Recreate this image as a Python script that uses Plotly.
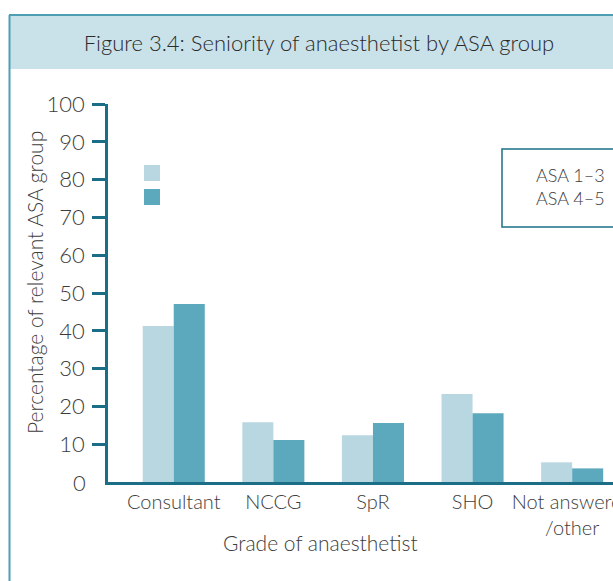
import plotly.graph_objects as go

categories = ["Consultant", "NCCG", "SpR", "SHO", "Not answered<br>/other"]
series_names = ["ASA 1\u20133", "ASA 4\u20135"]
asa_1_3 = [41.3, 15.8, 12.4, 23.3, 5.2]
asa_4_5 = [47.1, 11.1, 15.6, 18.2, 3.6]
y_ticks = [10, 20, 30, 40, 50, 60, 70, 80, 90, 100]

W, H = 613, 581
L, R, T, B = 108, 613, 104, 482  # plot area in pixels

def px(x):
    return (x - L) / (R - L)

def py(y):
    return (B - y) / (B - T)

FONT = "Lato"
TXT = "#3c3c3c"
AXIS = "#1b6e86"
C1 = "#b8d7e1"
C2 = "#5ca8bd"
BAND = "#c9e1e8"
FRAME = "#4e9fb4"

fig = go.Figure()
fig.add_trace(go.Bar(x=categories, y=asa_1_3, name=series_names[0], marker_color=C1, marker_line_width=0))
fig.add_trace(go.Bar(x=categories, y=asa_4_5, name=series_names[1], marker_color=C2, marker_line_width=0))

shapes = [
    dict(type="rect", xref="paper", yref="paper", x0=px(9), x1=px(640), y0=py(69), y1=py(15),
         fillcolor=BAND, line=dict(width=0), layer="below"),
    dict(type="line", xref="paper", yref="paper", x0=px(9), x1=px(640), y0=py(15), y1=py(15),
         line=dict(color=FRAME, width=2)),
    dict(type="line", xref="paper", yref="paper", x0=px(9.5), x1=px(9.5), y0=py(15), y1=py(600),
         line=dict(color=FRAME, width=2)),
    dict(type="rect", xref="paper", yref="paper", x0=px(144), x1=px(160), y0=py(181), y1=py(165),
         fillcolor=C1, line=dict(width=0)),
    dict(type="rect", xref="paper", yref="paper", x0=px(144), x1=px(160), y0=py(205), y1=py(189),
         fillcolor=C2, line=dict(width=0)),
    dict(type="rect", xref="paper", yref="paper", x0=px(502), x1=px(660), y0=py(227), y1=py(149),
         fillcolor="rgba(0,0,0,0)", line=dict(color=AXIS, width=1.5)),
]

annotations = [
    dict(text=series_names[0], xref="paper", yref="paper", x=px(607), y=py(175), xanchor="right",
         yanchor="middle", showarrow=False, font=dict(family=FONT, size=18, color=TXT, weight=300)),
    dict(text=series_names[1], xref="paper", yref="paper", x=px(607), y=py(198), xanchor="right",
         yanchor="middle", showarrow=False, font=dict(family=FONT, size=18, color=TXT, weight=300)),
    dict(text="0", xref="paper", yref="y", x=px(88), y=0, xanchor="right", yanchor="middle",
         showarrow=False, font=dict(family=FONT, size=22, color=TXT, weight=300)),
    dict(text="Percentage of relevant ASA group", xref="paper", yref="paper", x=px(34), y=py(283),
         textangle=-90, xanchor="center", yanchor="middle", showarrow=False,
         font=dict(family=FONT, size=21, color=TXT, weight=300)),
    dict(text="Grade of anaesthetist", xref="paper", yref="paper", x=px(320), y=py(542),
         xanchor="center", yanchor="middle", showarrow=False,
         font=dict(family=FONT, size=21, color=TXT, weight=300)),
]

fig.update_layout(
    width=W, height=H,
    margin=dict(l=L, r=W - R, t=T, b=H - B, pad=0),
    paper_bgcolor="white", plot_bgcolor="white",
    barmode="group", bargap=0.377, bargroupgap=0,
    showlegend=False,
    title=dict(text="Figure 3.4: Seniority of anaesthetist by ASA group", x=319 / W, xref="container",
               y=1 - 43 / H, yref="container", xanchor="center", yanchor="middle",
               font=dict(family=FONT, size=22, color="#2a2a2a", weight=300)),
    shapes=shapes, annotations=annotations,
    xaxis=dict(type="category", range=[-0.66, 4.41], showline=True, linecolor=AXIS, linewidth=2.5,
               ticks="", showgrid=False, zeroline=False, tickangle=0, automargin=False,
               tickfont=dict(family=FONT, size=20, color=TXT, weight=300)),
    yaxis=dict(range=[0, 100], tickvals=y_ticks, showline=True, linecolor=AXIS, linewidth=2.5,
               ticks="outside", ticklen=13, tickwidth=2.5, tickcolor=AXIS, showgrid=False,
               zeroline=False, automargin=False, ticklabelstandoff=3,
               tickfont=dict(family=FONT, size=22, color=TXT, weight=300)),
)

fig.write_html("out.html", config={"displayModeBar": False},
               post_script="document.body.style.margin='0';document.body.style.overflow='hidden';")
